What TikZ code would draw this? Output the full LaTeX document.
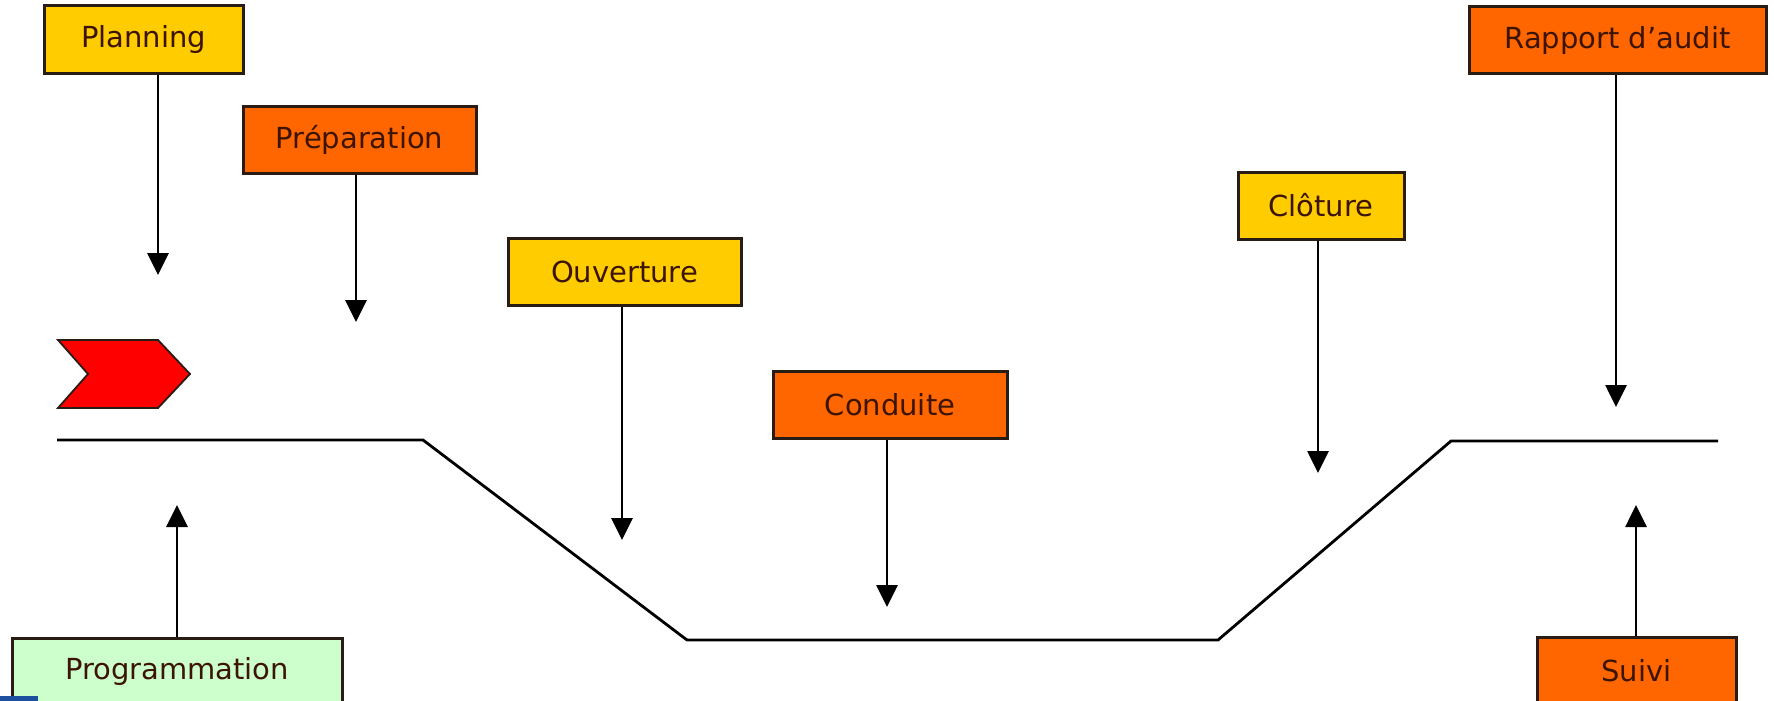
\documentclass[tikz,border=0pt]{standalone}
\usepackage{fontspec}
\setmainfont{DejaVu Sans}
\usetikzlibrary{arrows.meta,shapes}
\definecolor{jaune}{RGB}{255,204,0}
\definecolor{orangeb}{RGB}{255,102,0}
\definecolor{vert}{RGB}{204,255,204}
\definecolor{rouge}{RGB}{255,0,0}
\definecolor{bord}{RGB}{40,28,20}
\definecolor{texte}{RGB}{60,20,5}
\definecolor{bleu}{RGB}{30,80,160}

\begin{document}
\begin{tikzpicture}[x=1pt,y=-1pt,>={Triangle[length=22pt,width=21pt]},line width=2.8pt,
    etape/.style={draw=bord,line width=3pt,minimum height=67pt,inner sep=0pt,text=texte,font=\fontsize{29}{34}\selectfont}]
            \useasboundingbox (0,0) rectangle (1774,701);
            % les etapes
            \node[etape,fill=jaune,minimum width=199pt](Planning)at(143.5,39.5){Planning};
            \node[etape,fill=orangeb,minimum width=233pt](Preparation)at(359.5,140){Préparation};
            \node[etape,fill=jaune,minimum width=233pt](Ouverture)at(624.5,272){Ouverture};
            \node[etape,fill=orangeb,minimum width=234pt](Conduite)at(890,405){Conduite};
            \node[etape,fill=jaune,minimum width=166pt](Cloture)at(1321,205.5){Clôture};
            \node[etape,fill=orangeb,minimum width=297pt](Rapport)at(1617.5,40){Rapport d’audit};
            \node[etape,fill=vert,minimum width=330pt](Programmation)at(177,671.5){Programmation};
            \node[etape,fill=orangeb,minimum width=199pt](Suivi)at(1636.5,670.5){Suivi};
            % bouts des fleches
            \coordinate (pl) at (158,275);
            \coordinate (pr) at (356,322);
            \coordinate (ou) at (622,540);
            \coordinate (co) at (887,607);
            \coordinate (cl) at (1318,473);
            \coordinate (ra) at (1616,407);
            \coordinate (pg) at (177,505);
            \coordinate (su) at (1636,505);
            \path[->](pl |- Planning.south) edge (pl)
            (pr |- Preparation.south) edge (pr)
            (ou |- Ouverture.south) edge (ou)
            (co |- Conduite.south) edge (co)
            (cl |- Cloture.south) edge (cl)
            (ra |- Rapport.south) edge (ra)
            (pg |- Programmation.north) edge (pg)
            (su |- Suivi.north) edge (su);
            % la ligne du processus
            \draw[line join=miter] (57,440) -- (423,440) -- (687,640) -- (1218,640) -- (1451,441) -- (1718,441);
            % fleche de depart
            \draw[fill=rouge,draw=bord,line width=1.8pt] (58,340) -- (158,340) -- (190,374) -- (158,408) -- (58,408) -- (88,374) -- cycle;
            \fill[bleu] (0,696) rectangle (38,701);
        \end{tikzpicture}
\end{document}
